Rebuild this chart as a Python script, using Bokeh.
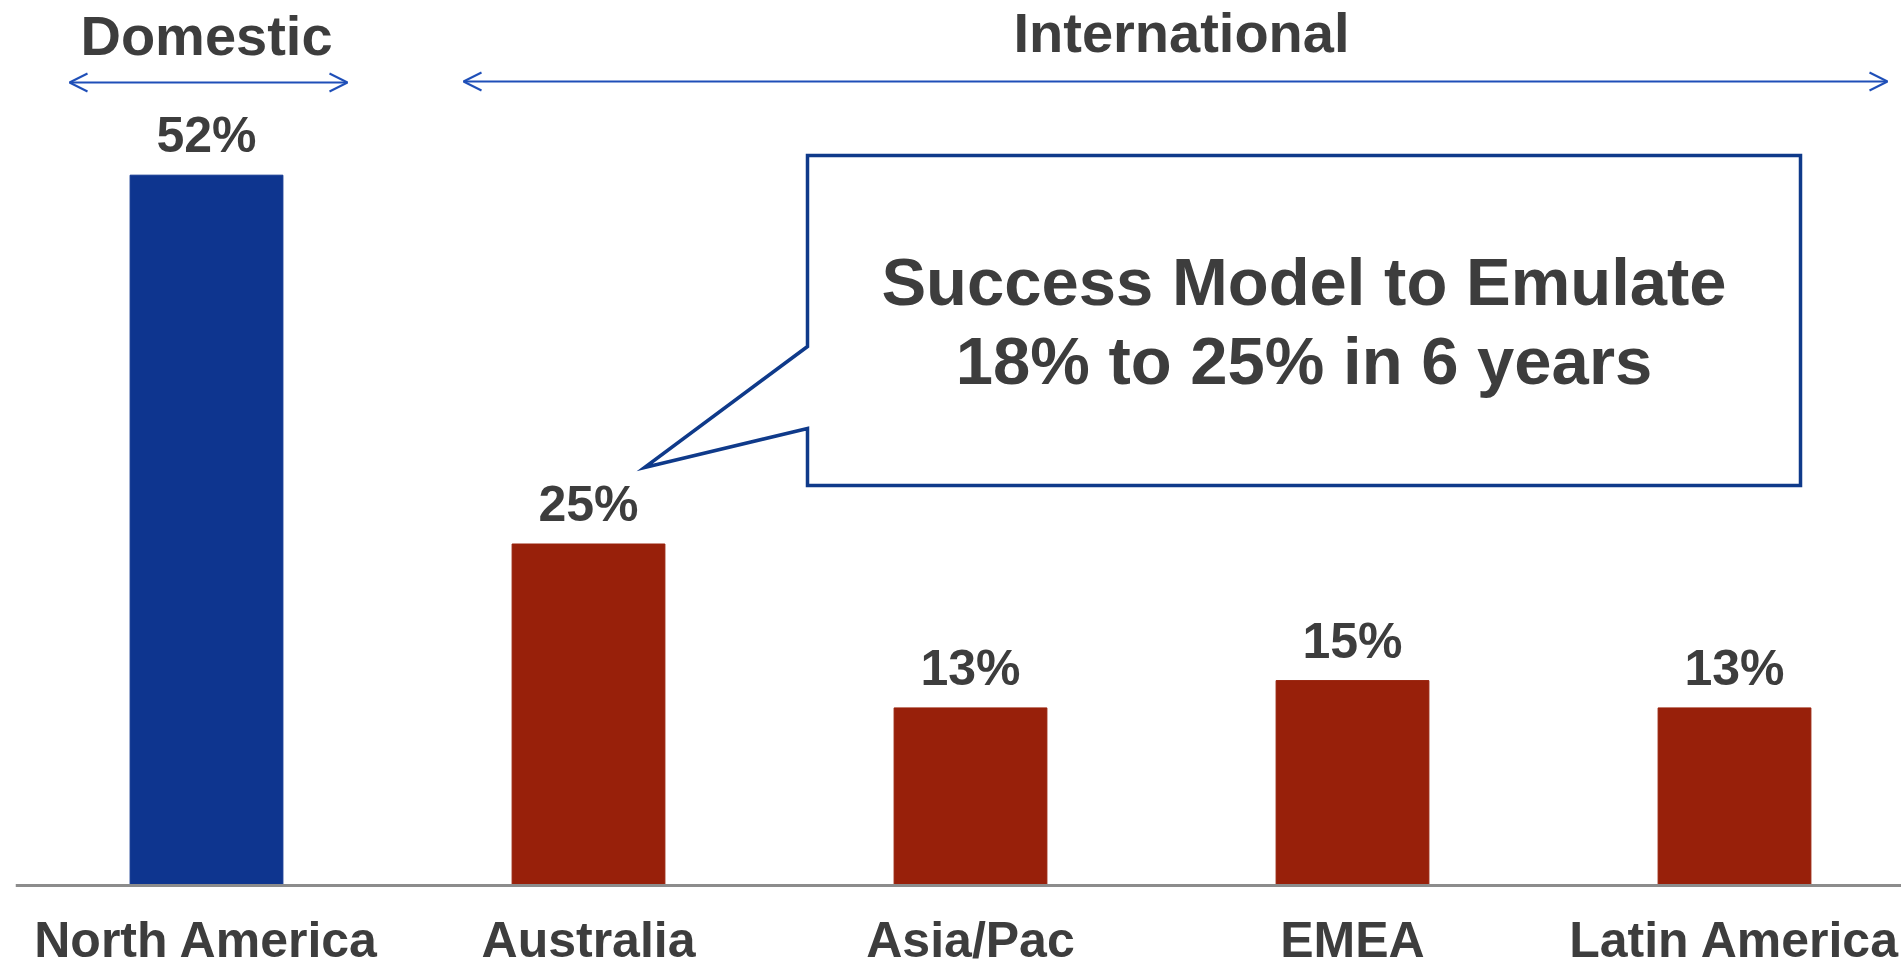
from bokeh.plotting import figure
from bokeh.models import Range1d, Span, ColumnDataSource
from bokeh.models import Arrow, OpenHead
from bokeh.core.properties import value
from bokeh.embed import file_html
from bokeh.resources import INLINE

# ---- data ----
categories = ["North America", "Australia", "Asia/Pac", "EMEA", "Latin America"]
shares = [52, 25, 13, 15, 13]
share_labels = ["52%", "25%", "13%", "15%", "13%"]
groups = ["Domestic", "International", "International", "International", "International"]
callout_lines = ["Success Model to Emulate", "18% to 25% in 6 years"]

# ---- layout constants ----
W, H = 1901, 968
LEFT = 15
PX_PER_CAT = 382.0
BASE_PX = 885          # pixel row of the zero line
PX_PER_PCT = 13.66
FONT = "Liberation Sans"
TXT = "#3d3d3d"
BLUE_BAR = "#0e358f"
RED_BAR = "#98200a"
ARROW_BLUE = "#1f4fb8"
BOX_BLUE = "#0f3a8a"

x0 = -0.5
x1 = x0 + (W - LEFT) / PX_PER_CAT
y0 = -(H - BASE_PX) / PX_PER_PCT
y1 = BASE_PX / PX_PER_PCT

def px2x(px):
    return x0 + (px - LEFT) / PX_PER_CAT

def py2y(py):
    return (BASE_PX - py) / PX_PER_PCT

p = figure(width=W, height=H, output_backend="svg", toolbar_location=None,
           x_range=Range1d(x0, x1), y_range=Range1d(y0, y1),
           min_border_left=LEFT, min_border_right=0, min_border_top=0,
           min_border_bottom=0)
p.outline_line_color = None
p.background_fill_color = "white"
p.xgrid.visible = False
p.ygrid.visible = False
p.xaxis.visible = False
p.yaxis.visible = False

idx = list(range(len(categories)))
colors = [BLUE_BAR if g == "Domestic" else RED_BAR for g in groups]
src = ColumnDataSource(dict(x=idx, top=shares, color=colors, label=share_labels,
                            cat=categories, zero=[0] * len(idx)))
p.vbar(x="x", top="top", bottom=0, width=0.4, color="color", source=src)

# baseline (category axis line)
p.add_layout(Span(location=0, dimension="width", line_color="#8c8c8c", line_width=3))

# value labels
p.text(x="x", y="top", text="label", source=src, text_font=value(FONT),
       text_font_style="bold", text_font_size="50px", text_color=TXT,
       text_align="center", text_baseline="middle", y_offset=-40)

# category labels
p.text(x="x", y="zero", text="cat", source=src, text_font=value(FONT),
       text_font_style="bold", text_font_size="50px", text_color=TXT,
       text_align="center", text_baseline="middle", y_offset=54)

# group headers
dom_x = idx[groups.index("Domestic")]
p.text(x=[dom_x], y=[py2y(35)], text=["Domestic"], text_font=value(FONT),
       text_font_style="bold", text_font_size="56px", text_color=TXT,
       text_align="center", text_baseline="middle")
p.text(x=[px2x(1181)], y=[py2y(32)], text=["International"], text_font=value(FONT),
       text_font_style="bold", text_font_size="56px", text_color=TXT,
       text_align="center", text_baseline="middle")

for xa, xb, ya in [(69, 347, 82), (463, 1887, 81)]:
    p.add_layout(Arrow(x_start=px2x(xa), x_end=px2x(xb), y_start=py2y(ya), y_end=py2y(ya),
                       line_color=ARROW_BLUE, line_width=2,
                       start=OpenHead(size=18, line_color=ARROW_BLUE, line_width=2),
                       end=OpenHead(size=18, line_color=ARROW_BLUE, line_width=2)))

# callout box with pointer to Australia bar
bx0, bx1, by0, by1 = 807, 1800, 155, 485
poly_px = [(bx0, by0), (bx1, by0), (bx1, by1), (bx0, by1), (bx0, 428), (644, 467), (bx0, 346)]
p.patch(x=[px2x(a) for a, b in poly_px], y=[py2y(b) for a, b in poly_px],
        fill_color="white", line_color=BOX_BLUE, line_width=3.5, line_join="miter")
cx = px2x((bx0 + bx1) / 2)
p.text(x=[cx, cx], y=[py2y(281), py2y(360)], text=callout_lines, text_font=value(FONT),
       text_font_style="bold", text_font_size="67px", text_color=TXT,
       text_align="center", text_baseline="middle")

open("out.html", "w").write(file_html(p, INLINE))
